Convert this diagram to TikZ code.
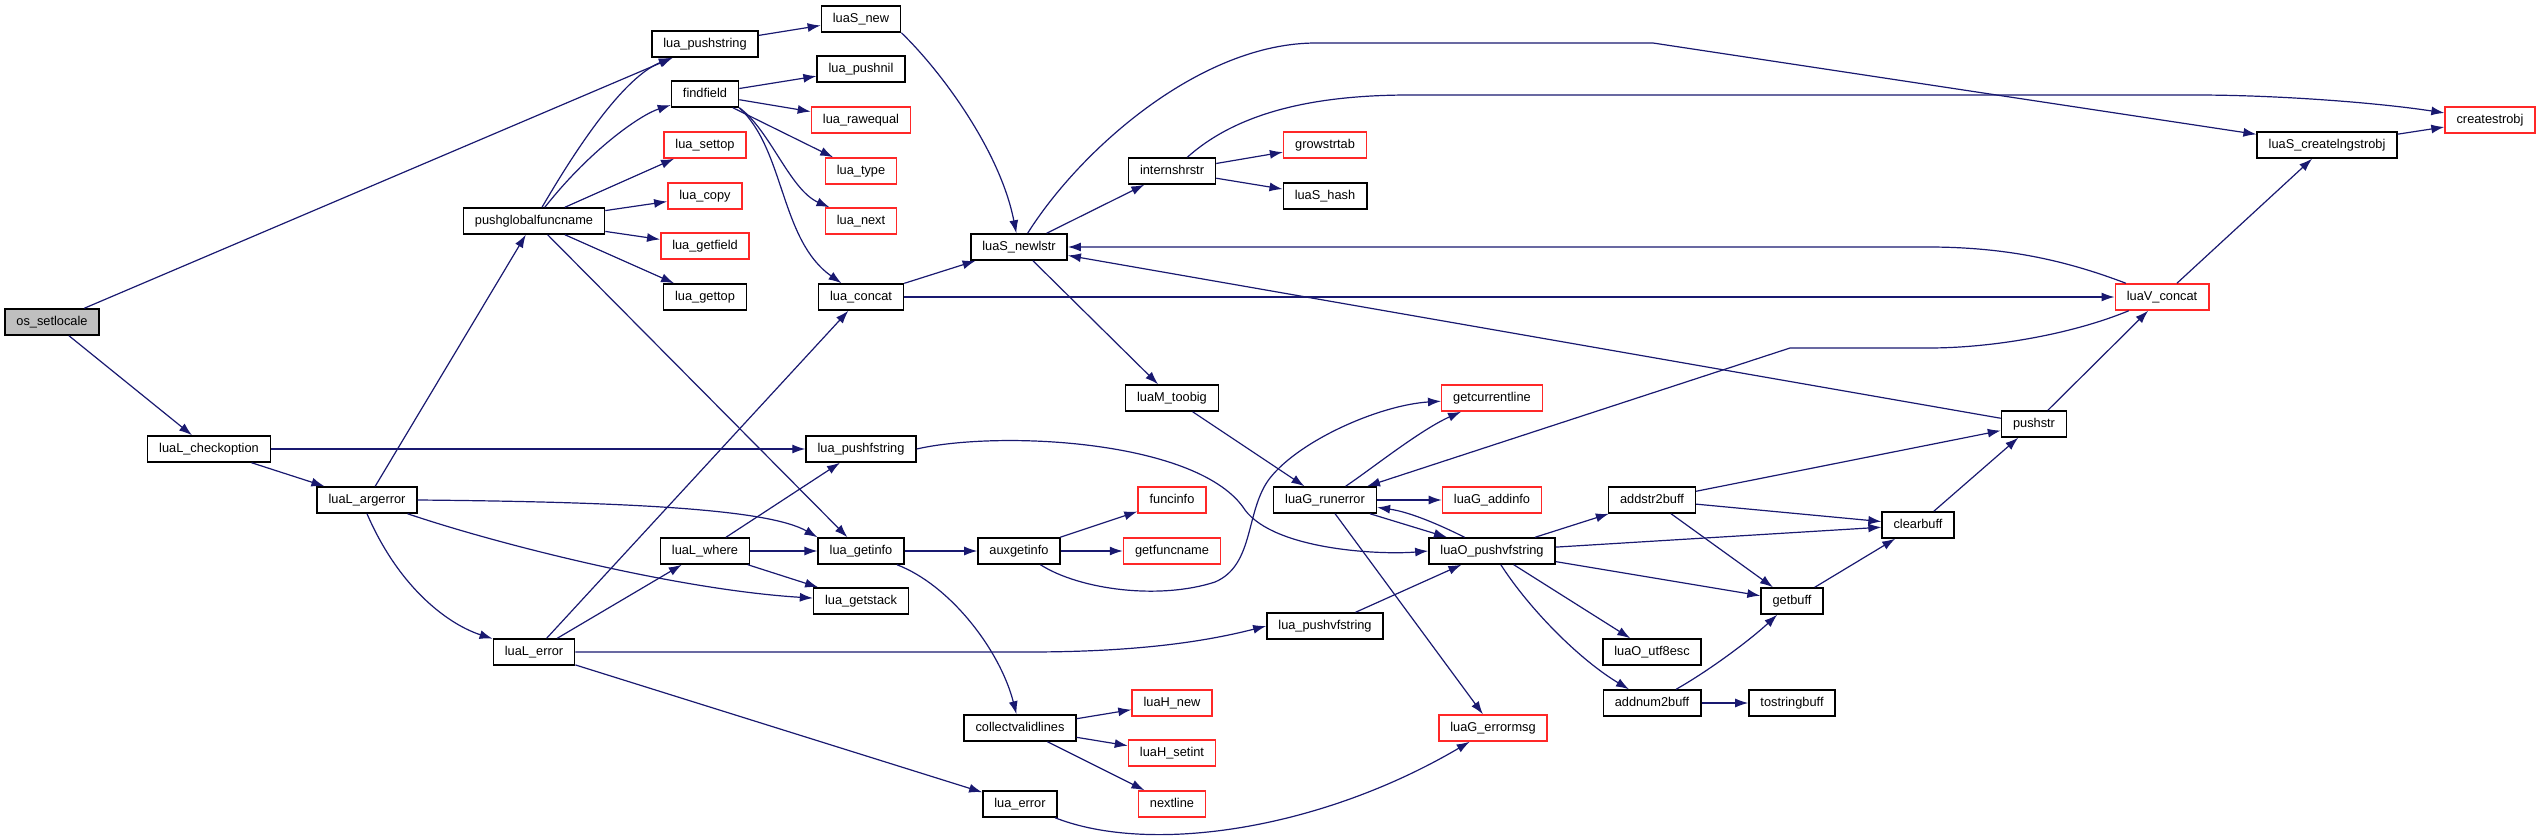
\documentclass[tikz,border=0pt]{standalone}
\usepackage{fontspec}
\setmainfont{Liberation Sans}
\usepackage{xcolor}
\usepackage{tikz}
\usetikzlibrary{arrows.meta}
\definecolor{EdgeBlue}{RGB}{25,25,112}
\definecolor{BoxRed}{RGB}{255,40,40}
\definecolor{RootGray}{RGB}{191,191,191}

\begin{document}
\begin{tikzpicture}[>={Latex[length=13pt,width=9pt]},x=1pt,y=-1pt,
  fn/.style={draw=black,line width=1.5pt,fill=white,minimum height=26pt,
    inner xsep=11.5pt,inner ysep=0pt,text height=9.5pt,text depth=2.8pt,
    font=\fontsize{12.8}{14}\selectfont},
  fnred/.style={fn,draw=BoxRed},
  call/.style={->,EdgeBlue,line width=1.2pt}]
  \useasboundingbox (0,0) rectangle (2541,840);

  \node[fn,fill=RootGray] (setlocale) at (52,322) {os\_setlocale};
  \node[fn] (checkoption) at (209,449) {luaL\_checkoption};
  \node[fn] (argerror) at (367,500) {luaL\_argerror};
  \node[fn] (pushglobal) at (534,221) {pushglobalfuncname};
  \node[fn] (Lerror) at (534,652) {luaL\_error};
  \node[fn] (pushstring) at (705,44) {lua\_pushstring};
  \node[fn] (findfield) at (705,94) {findfield};
  \node[fnred] (settop) at (705,145) {lua\_settop};
  \node[fnred] (copy) at (705,196) {lua\_copy};
  \node[fnred] (getfield) at (705,246) {lua\_getfield};
  \node[fn] (gettop) at (705,297) {lua\_gettop};
  \node[fn] (where) at (705,551) {luaL\_where};
  \node[fn] (Snew) at (861,19) {luaS\_new};
  \node[fn] (pushnil) at (861,69) {lua\_pushnil};
  \node[fnred] (rawequal) at (861,120) {lua\_rawequal};
  \node[fnred] (luatype) at (861,171) {lua\_type};
  \node[fnred] (luanext) at (861,221) {lua\_next};
  \node[fn] (concat) at (861,297) {lua\_concat};
  \node[fn] (pushfstring) at (861,449) {lua\_pushfstring};
  \node[fn] (getinfo) at (861,551) {lua\_getinfo};
  \node[fn] (getstack) at (861,601) {lua\_getstack};
  \node[fn] (newlstr) at (1019,247) {luaS\_newlstr};
  \node[fn] (auxgetinfo) at (1019,551) {auxgetinfo};
  \node[fn] (collect) at (1020,728) {collectvalidlines};
  \node[fn] (luaerror) at (1020,804) {lua\_error};
  \node[fn] (intern) at (1172,171) {internshrstr};
  \node[fn] (toobig) at (1172,398) {luaM\_toobig};
  \node[fnred] (funcinfo) at (1172,500) {funcinfo};
  \node[fnred] (getfuncname) at (1172,551) {getfuncname};
  \node[fnred] (Hnew) at (1172,703) {luaH\_new};
  \node[fnred] (setint) at (1172,753) {luaH\_setint};
  \node[fnred] (nextline) at (1172,804) {nextline};
  \node[fnred] (growstrtab) at (1325,145) {growstrtab};
  \node[fn] (Shash) at (1325,196) {luaS\_hash};
  \node[fn] (runerror) at (1325,500) {luaG\_runerror};
  \node[fn] (pushvfstring) at (1325,626) {lua\_pushvfstring};
  \node[fnred] (getcurline) at (1492,398) {getcurrentline};
  \node[fnred] (addinfo) at (1492,500) {luaG\_addinfo};
  \node[fn] (Opushvf) at (1492,551) {luaO\_pushvfstring};
  \node[fnred] (errormsg) at (1493,728) {luaG\_errormsg};
  \node[fn] (addstr) at (1652,500) {addstr2buff};
  \node[fn] (utfesc) at (1652,652) {luaO\_utf8esc};
  \node[fn] (addnum) at (1652,703) {addnum2buff};
  \node[fn] (getbuff) at (1792,601) {getbuff};
  \node[fn] (tostringbuff) at (1792,703) {tostringbuff};
  \node[fn] (clearbuff) at (1918,525) {clearbuff};
  \node[fn] (pushstr) at (2034,424) {pushstr};
  \node[fnred] (Vconcat) at (2162,297) {luaV\_concat};
  \node[fn] (createlng) at (2327,145) {luaS\_createlngstrobj};
  \node[fnred] (createstrobj) at (2490,120) {createstrobj};

  \draw[call] (setlocale) -- (pushstring);
  \draw[call] (setlocale) -- (checkoption);
  \draw[call] (checkoption) -- (pushfstring);
  \draw[call] (checkoption) -- (argerror);
  \draw[call] (argerror) -- (pushglobal);
  \draw[call] (argerror.east) .. controls (640,502) and (770,510) .. (getinfo.north west);
  \draw[call] (argerror) .. controls (500,545) and (680,590) .. (getstack);
  \draw[call] (argerror.south) .. controls (400,590) and (450,625) .. (Lerror);
  \draw[call] (Lerror) -- (concat);
  \draw[call] (Lerror) -- (where);
  \draw[call] (Lerror.east) -- (1028,652) .. controls (1130,652) and (1200,643) .. (pushvfstring.west);
  \draw[call] (Lerror) -- (luaerror);
  \draw[call] (where) -- (pushfstring);
  \draw[call] (where) -- (getinfo);
  \draw[call] (where) -- (getstack);
  \draw[call] (pushglobal) .. controls (590,125) and (630,75) .. (pushstring);
  \draw[call] (pushglobal) .. controls (590,150) and (640,115) .. (findfield);
  \draw[call] (pushglobal) -- (settop);
  \draw[call] (pushglobal) -- (copy);
  \draw[call] (pushglobal) -- (getfield);
  \draw[call] (pushglobal) -- (gettop);
  \draw[call] (pushglobal) -- (getinfo);
  \draw[call] (pushstring) -- (Snew);
  \draw[call] (Snew.south east) .. controls (940,70) and (1000,150) .. (newlstr);
  \draw[call] (findfield) -- (pushnil);
  \draw[call] (findfield) -- (rawequal);
  \draw[call] (findfield) -- (luatype);
  \draw[call] (findfield.south east) .. controls (770,130) and (790,190) .. (luanext);
  \draw[call] (findfield.south east) .. controls (785,150) and (780,240) .. (concat);
  \draw[call] (concat) -- (newlstr);
  \draw[call] (concat) -- (Vconcat);
  \draw[call] (newlstr) -- (intern);
  \draw[call] (newlstr) -- (toobig);
  \draw[call] (newlstr) .. controls (1080,150) and (1200,43) .. (1316,43) -- (1653,43) -- (createlng);
  \draw[call] (intern) -- (growstrtab);
  \draw[call] (intern) -- (Shash);
  \draw[call] (intern) .. controls (1240,110) and (1320,95) .. (1410,95) -- (2195,95)
    .. controls (2280,95) and (2380,103) .. (createstrobj);
  \draw[call] (createlng) -- (createstrobj);
  \draw[call] (Vconcat) -- (createlng);
  \draw[call] (Vconcat) .. controls (2070,262) and (2010,247) .. (1928,247) -- (newlstr);
  \draw[call] (Vconcat) .. controls (2070,335) and (1990,348) .. (1929,348) -- (1790,348) -- (runerror);
  \draw[call] (pushstr) -- (newlstr);
  \draw[call] (pushstr) -- (Vconcat);
  \draw[call] (toobig) -- (runerror);
  \draw[call] (runerror) -- (addinfo);
  \draw[call] (runerror) -- (Opushvf);
  \draw[call] (runerror) -- (errormsg);
  \draw[call] (runerror) .. controls (1370,470) and (1420,430) .. (getcurline);
  \draw[call] (Opushvf) .. controls (1440,525) and (1410,512) .. (runerror);
  \draw[call] (Opushvf) -- (addstr);
  \draw[call] (Opushvf) -- (clearbuff);
  \draw[call] (Opushvf) -- (getbuff);
  \draw[call] (Opushvf) -- (utfesc);
  \draw[call] (Opushvf) .. controls (1530,610) and (1580,660) .. (addnum);
  \draw[call] (pushfstring.east) .. controls (1000,430) and (1200,440) .. (1245,510)
    .. controls (1275,550) and (1380,555) .. (Opushvf.west);
  \draw[call] (getinfo) -- (auxgetinfo);
  \draw[call] (getinfo) .. controls (950,585) and (1000,650) .. (collect);
  \draw[call] (auxgetinfo) -- (funcinfo);
  \draw[call] (auxgetinfo) -- (getfuncname);
  \draw[call] (auxgetinfo) .. controls (1080,590) and (1160,600) .. (1215,582)
    .. controls (1255,565) and (1245,510) .. (1270,478)
    .. controls (1300,440) and (1380,405) .. (getcurline);
  \draw[call] (collect) -- (Hnew);
  \draw[call] (collect) -- (setint);
  \draw[call] (collect) -- (nextline);
  \draw[call] (luaerror) .. controls (1150,855) and (1320,830) .. (errormsg);
  \draw[call] (pushvfstring) -- (Opushvf);
  \draw[call] (addstr) -- (pushstr);
  \draw[call] (addstr) -- (clearbuff);
  \draw[call] (addstr) -- (getbuff);
  \draw[call] (addnum) .. controls (1710,670) and (1750,640) .. (getbuff);
  \draw[call] (addnum) -- (tostringbuff);
  \draw[call] (getbuff) -- (clearbuff);
  \draw[call] (clearbuff) -- (pushstr);
\end{tikzpicture}
\end{document}
